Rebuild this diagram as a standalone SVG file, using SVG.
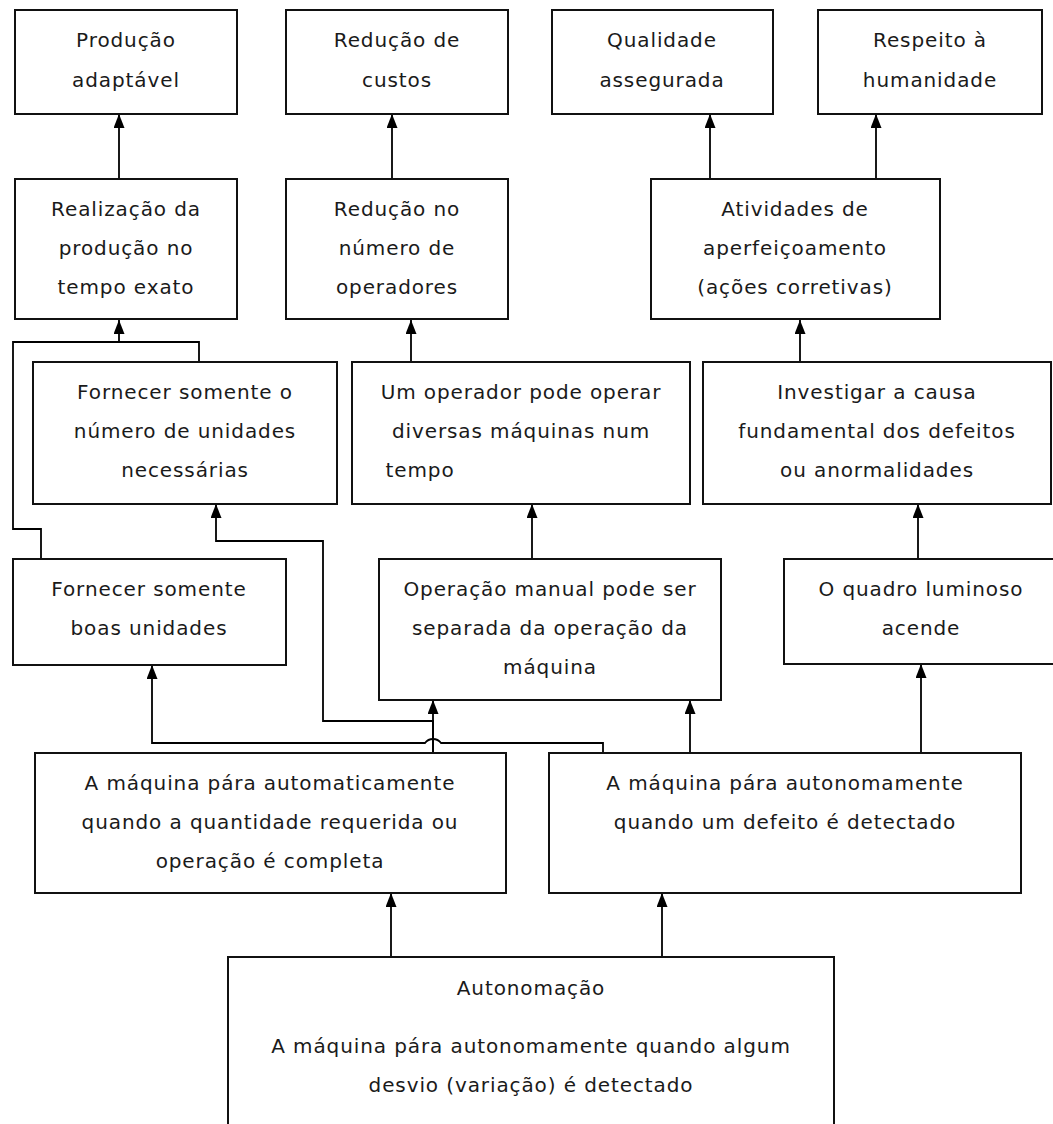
<svg xmlns="http://www.w3.org/2000/svg" width="1053" height="1124" viewBox="0 0 1053 1124">
  <defs>
    <marker id="ah" viewBox="0 0 14 11" markerWidth="14" markerHeight="11" refX="14" refY="5.5" orient="auto" markerUnits="userSpaceOnUse">
      <path d="M0,0 L14,5.5 L0,11 Z" fill="#000"/>
    </marker>
    <style>
      .box { fill: #fff; stroke: #111; stroke-width: 2; }
      .lbl { font-family: "DejaVu Sans", Verdana, sans-serif; font-size: 20px; letter-spacing: 0.9px; fill: #1a1a1a; text-anchor: middle; dominant-baseline: central; }
      .wire { fill: none; stroke: #000; stroke-width: 1.8; }
      .arrow { marker-end: url(#ah); }
    </style>
  </defs>
  <rect width="1053" height="1124" fill="#fff"/>

  <!-- connectors -->
  <g id="connectors">
    <path class="wire arrow" d="M119,179 V114"/>
    <path class="wire arrow" d="M392,179 V114"/>
    <path class="wire arrow" d="M710,179 V114"/>
    <path class="wire arrow" d="M876,179 V114"/>
    <path class="wire arrow" d="M199,362 V342 H119 V320"/>
    <path class="wire" d="M41,559 V529 H13 V342 H119"/>
    <path class="wire arrow" d="M411,362 V320"/>
    <path class="wire arrow" d="M800,362 V320"/>
    <path class="wire arrow" d="M532,559 V504"/>
    <path class="wire arrow" d="M918,559 V504"/>
    <path class="wire arrow" d="M433,753 V721 H323 V541 H216 V504"/>
    <path class="wire arrow" d="M433,753 V700"/>
    <path class="wire arrow" d="M603,753 V743 H441 A10,10 0 0 0 425,743 H152 V665"/>
    <path class="wire arrow" d="M690,753 V700"/>
    <path class="wire arrow" d="M921,753 V664"/>
    <path class="wire arrow" d="M391,957 V893"/>
    <path class="wire arrow" d="M662,957 V893"/>
  </g>

  <!-- goals -->
  <g id="producao-adaptavel">
    <rect class="box" x="15" y="10" width="222" height="104"/>
    <text class="lbl" x="126" y="40">Produção</text>
    <text class="lbl" x="126" y="80">adaptável</text>
  </g>
  <g id="reducao-custos">
    <rect class="box" x="286" y="10" width="222" height="104"/>
    <text class="lbl" x="397" y="40">Redução de</text>
    <text class="lbl" x="397" y="80">custos</text>
  </g>
  <g id="qualidade-assegurada">
    <rect class="box" x="552" y="10" width="221" height="104"/>
    <text class="lbl" x="662" y="40">Qualidade</text>
    <text class="lbl" x="662" y="80">assegurada</text>
  </g>
  <g id="respeito-humanidade">
    <rect class="box" x="818" y="10" width="224" height="104"/>
    <text class="lbl" x="930" y="40">Respeito à</text>
    <text class="lbl" x="930" y="80">humanidade</text>
  </g>

  <!-- second row -->
  <g id="tempo-exato">
    <rect class="box" x="15" y="179" width="222" height="140"/>
    <text class="lbl" x="126" y="209">Realização da</text>
    <text class="lbl" x="126" y="248">produção no</text>
    <text class="lbl" x="126" y="287">tempo exato</text>
  </g>
  <g id="reducao-operadores">
    <rect class="box" x="286" y="179" width="222" height="140"/>
    <text class="lbl" x="397" y="209">Redução no</text>
    <text class="lbl" x="397" y="248">número de</text>
    <text class="lbl" x="397" y="287">operadores</text>
  </g>
  <g id="atividades-aperfeicoamento">
    <rect class="box" x="651" y="179" width="289" height="140"/>
    <text class="lbl" x="795" y="209">Atividades de</text>
    <text class="lbl" x="795" y="248">aperfeiçoamento</text>
    <text class="lbl" x="795" y="287">(ações corretivas)</text>
  </g>

  <!-- third row -->
  <g id="unidades-necessarias">
    <rect class="box" x="33" y="362" width="304" height="142"/>
    <text class="lbl" x="185" y="392">Fornecer somente o</text>
    <text class="lbl" x="185" y="431">número de unidades</text>
    <text class="lbl" x="185" y="470">necessárias</text>
  </g>
  <g id="diversas-maquinas">
    <rect class="box" x="352" y="362" width="338" height="142"/>
    <text class="lbl" x="521" y="392">Um operador pode operar</text>
    <text class="lbl" x="521" y="431">diversas máquinas num</text>
    <text class="lbl" x="420" y="470">tempo</text>
  </g>
  <g id="investigar-causa">
    <rect class="box" x="703" y="362" width="348" height="142"/>
    <text class="lbl" x="877" y="392">Investigar a causa</text>
    <text class="lbl" x="877" y="431">fundamental dos defeitos</text>
    <text class="lbl" x="877" y="470">ou anormalidades</text>
  </g>

  <!-- fourth row -->
  <g id="boas-unidades">
    <rect class="box" x="13" y="559" width="273" height="106"/>
    <text class="lbl" x="149" y="589">Fornecer somente</text>
    <text class="lbl" x="149" y="628">boas unidades</text>
  </g>
  <g id="operacao-manual">
    <rect class="box" x="379" y="559" width="342" height="141"/>
    <text class="lbl" x="550" y="589">Operação manual pode ser</text>
    <text class="lbl" x="550" y="628">separada da operação da</text>
    <text class="lbl" x="550" y="667">máquina</text>
  </g>
  <g id="quadro-luminoso">
    <rect class="box" x="784" y="559" width="274" height="105"/>
    <text class="lbl" x="921" y="589">O quadro luminoso</text>
    <text class="lbl" x="921" y="628">acende</text>
  </g>

  <!-- fifth row -->
  <g id="para-automaticamente">
    <rect class="box" x="35" y="753" width="471" height="140"/>
    <text class="lbl" x="270" y="783">A máquina pára automaticamente</text>
    <text class="lbl" x="270" y="822">quando a quantidade requerida ou</text>
    <text class="lbl" x="270" y="861">operação é completa</text>
  </g>
  <g id="para-defeito">
    <rect class="box" x="549" y="753" width="472" height="140"/>
    <text class="lbl" x="785" y="783">A máquina pára autonomamente</text>
    <text class="lbl" x="785" y="822">quando um defeito é detectado</text>
  </g>

  <!-- base -->
  <g id="autonomacao">
    <rect class="box" x="228" y="957" width="606" height="180"/>
    <text class="lbl" x="531" y="988">Autonomação</text>
    <text class="lbl" x="531" y="1046">A máquina pára autonomamente quando algum</text>
    <text class="lbl" x="531" y="1085">desvio (variação) é detectado</text>
  </g>
</svg>
